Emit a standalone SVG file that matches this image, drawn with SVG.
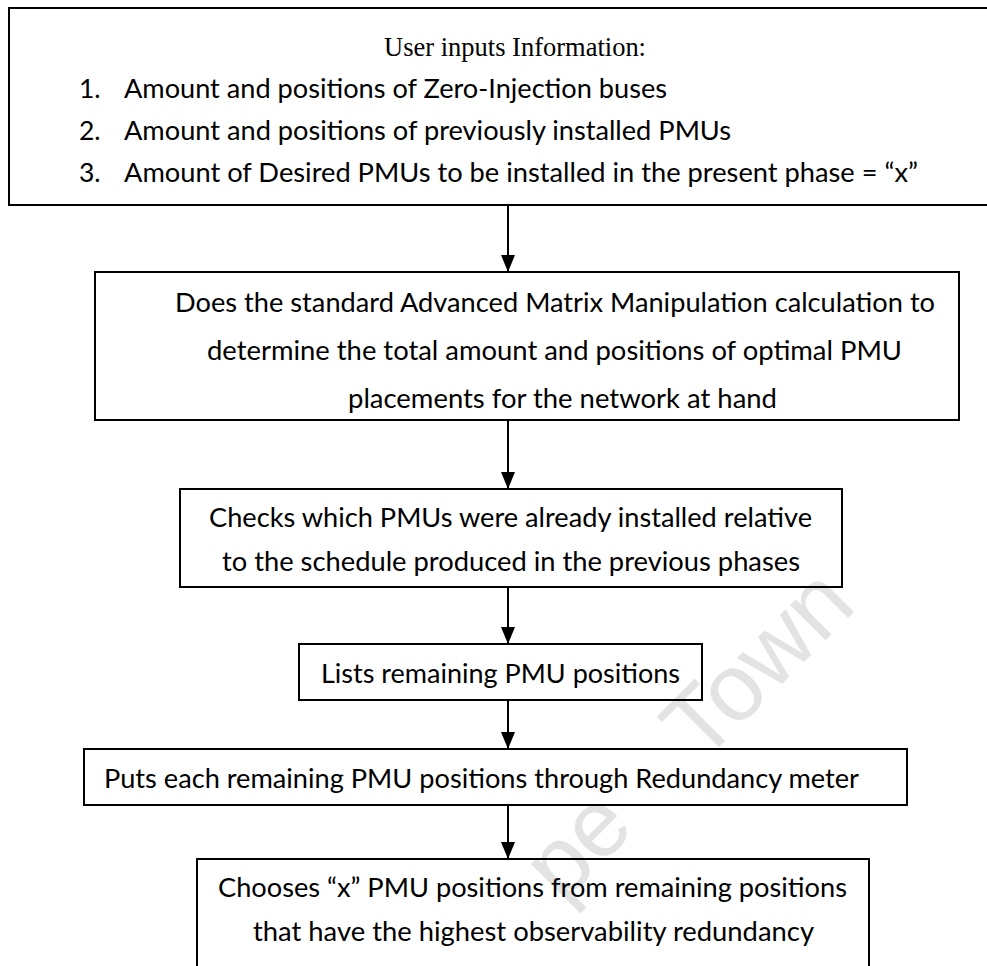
<svg xmlns="http://www.w3.org/2000/svg" width="987" height="966" viewBox="0 0 987 966">
  <style>
    .box { fill: none; stroke: #000000; stroke-width: 2; }
    .txt { font-family: Lato, "Liberation Sans", sans-serif; font-size: 26.5px; fill: #000000; }
    .title { font-family: "Liberation Serif", serif; font-size: 27px; fill: #000000; }
    .wire { stroke: #000000; stroke-width: 2; fill: none; marker-end: url(#head); }
    .mark { font-family: "Liberation Sans", sans-serif; font-size: 95px; fill: #e3e3e3; }
  </style>
  <defs>
    <marker id="head" viewBox="0 0 17 14" refX="17" refY="7" markerWidth="17" markerHeight="14" markerUnits="userSpaceOnUse" orient="auto">
      <path d="M0,0 L17,7 L0,14 Z" fill="#000000"/>
    </marker>
  </defs>
  <rect width="987" height="966" fill="#ffffff"/>

  <!-- faint diagonal watermark, sits under the drawing -->
  <text class="mark" x="562" y="904" transform="rotate(-45 562 904)">pe <tspan dx="67">Town</tspan></text>

  <g id="user-inputs">
    <rect class="box" x="9" y="8" width="1000" height="197"/>
    <text class="title" x="515" y="56" text-anchor="middle" textLength="262" lengthAdjust="spacingAndGlyphs">User inputs Information:</text>
    <text class="txt" x="79" y="98">1.</text>
    <text class="txt" x="124" y="98" textLength="543" lengthAdjust="spacingAndGlyphs">Amount and positions of Zero-Injection buses</text>
    <text class="txt" x="79" y="140">2.</text>
    <text class="txt" x="124" y="140" textLength="607" lengthAdjust="spacingAndGlyphs">Amount and positions of previously installed PMUs</text>
    <text class="txt" x="79" y="182">3.</text>
    <text class="txt" x="124" y="182" textLength="794" lengthAdjust="spacingAndGlyphs">Amount of Desired PMUs to be installed in the present phase = “x”</text>
  </g>

  <g id="matrix-calc">
    <rect class="box" x="95" y="272" width="864" height="148"/>
    <text class="txt" x="175" y="312" textLength="760" lengthAdjust="spacingAndGlyphs">Does the standard Advanced Matrix Manipulation calculation to</text>
    <text class="txt" x="207" y="360" textLength="695" lengthAdjust="spacingAndGlyphs">determine the total amount and positions of optimal PMU</text>
    <text class="txt" x="348" y="408" textLength="429" lengthAdjust="spacingAndGlyphs">placements for the network at hand</text>
  </g>

  <g id="check-installed">
    <rect class="box" x="180" y="489" width="662" height="98"/>
    <text class="txt" x="209" y="527" textLength="603" lengthAdjust="spacingAndGlyphs">Checks which PMUs were already installed relative</text>
    <text class="txt" x="222" y="571" textLength="578" lengthAdjust="spacingAndGlyphs">to the schedule produced in the previous phases</text>
  </g>

  <g id="list-remaining">
    <rect class="box" x="299" y="644" width="403" height="56"/>
    <text class="txt" x="321" y="683" textLength="359" lengthAdjust="spacingAndGlyphs">Lists remaining PMU positions</text>
  </g>

  <g id="redundancy-meter">
    <rect class="box" x="84" y="749" width="823" height="56"/>
    <text class="txt" x="104" y="788" textLength="755" lengthAdjust="spacingAndGlyphs">Puts each remaining PMU positions through Redundancy meter</text>
  </g>

  <g id="choose-x">
    <rect class="box" x="197" y="859" width="672" height="140"/>
    <text class="txt" x="218" y="897" textLength="629" lengthAdjust="spacingAndGlyphs">Chooses “x” PMU positions from remaining positions</text>
    <text class="txt" x="253" y="941" textLength="561" lengthAdjust="spacingAndGlyphs">that have the highest observability redundancy</text>
  </g>

  <g id="connectors">
    <line class="wire" x1="508" y1="205" x2="508" y2="272"/>
    <line class="wire" x1="508" y1="420" x2="508" y2="489"/>
    <line class="wire" x1="508" y1="587" x2="508" y2="644"/>
    <line class="wire" x1="508" y1="700" x2="508" y2="749"/>
    <line class="wire" x1="508" y1="805" x2="508" y2="859"/>
  </g>
</svg>
